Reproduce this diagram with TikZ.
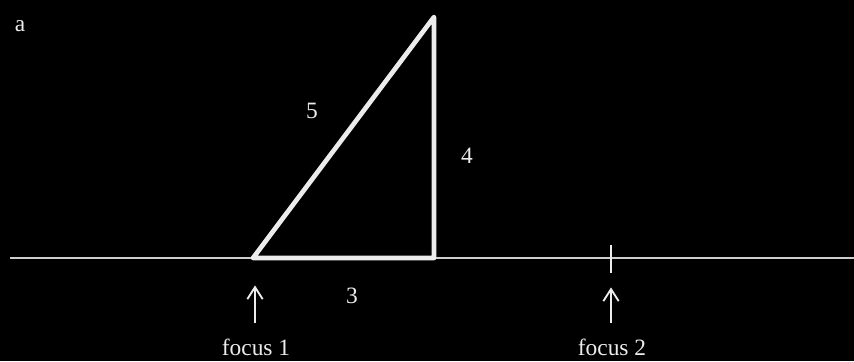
\documentclass[tikz,border=0pt]{standalone}
\usepackage{fontspec}
\setmainfont{Liberation Serif}
\usetikzlibrary{arrows.meta, positioning, calc}
\definecolor{chalk}{RGB}{236, 236, 236}
\definecolor{axisgrey}{RGB}{205, 205, 205}

\begin{document}
\begin{tikzpicture}[x=0.3mm, y=-0.3mm, every node/.style={font=\fontsize{20}{24}\selectfont, text=chalk, inner sep=0pt},
  side/.style={draw=chalk, line width=4pt, line join=round},
  pointer/.style={draw=chalk, line width=1.6pt, -{Straight Barb[length=3.6mm, width=4.6mm, line width=1.6pt]}}]
\fill[black] (0,0) rectangle (854,361);
\useasboundingbox (0,0) rectangle (854,361);
% baseline and triangle corners
\coordinate (l0) at (10,258);
\coordinate (l1) at (854,258);
\coordinate (A) at (253,258);
\coordinate (B) at (434,258);
\coordinate (C) at (434,17);
\draw[axisgrey, line width=1.5pt] (l0) -- (l1);
\draw[side] (A) -- (B) -- (C) -- cycle;
% tick for the second focus
\coordinate (f2) at (611,258);
\draw[chalk, line width=1.5pt] ($(f2)+(0,-13)$) -- ($(f2)+(0,15)$);
% labels
\node (a) at (20,26) {a};
\node (s5) at (312,111) {5};
\node (s4) at (467,156) {4};
\node (s3) at (352,296) {3};
\node (focA) at (256,347) {focus 1};
\node (focB) at (612,347) {focus 2};
\draw[pointer] ($(focA.north)+(-1,-15)$) -- ($(focA.north)+(-1,-53)$);
\draw[pointer] ($(focB.north)+(-1,-15)$) -- ($(focB.north)+(-1,-51)$);
\end{tikzpicture}
\end{document}
